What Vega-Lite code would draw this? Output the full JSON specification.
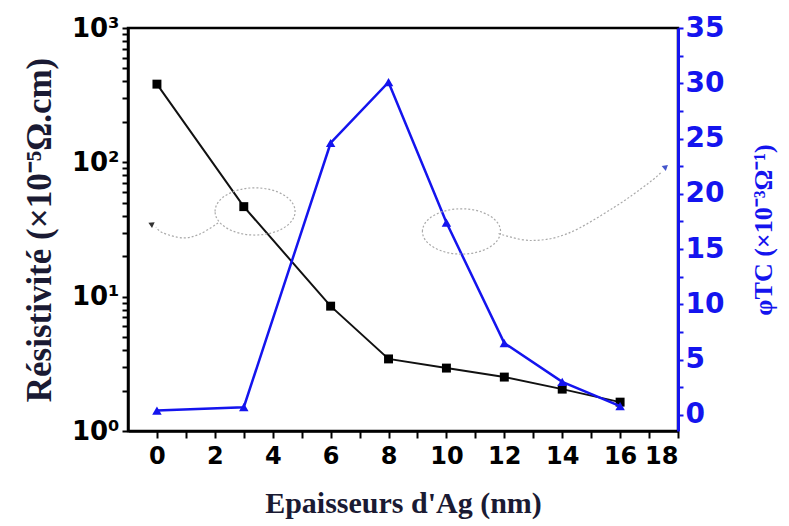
{
  "$schema": "https://vega.github.io/schema/vega-lite/v6.json",
  "width": 550,
  "height": 403,
  "autosize": {"type": "none"},
  "padding": {"left": 128, "top": 28, "right": 111, "bottom": 95},
  "background": "white",
  "config": {
    "view": {"stroke": "black", "strokeWidth": 2.5},
    "axis": {"grid": false},
    "axisX": {"titleFont": "Liberation Serif", "titleFontWeight": "bold", "titleFontSize": 30, "titleColor": "#1a1a33", "titlePadding": 20},
    "axisLeft": {"titleFont": "Liberation Serif", "titleFontWeight": "bold", "titleFontSize": 35, "titleColor": "#1a1a33", "titlePadding": 14},
    "axisRight": {"titleFont": "Liberation Serif", "titleFontWeight": "bold", "titleFontSize": 26, "titleColor": "#1414ee", "titleAngle": 270, "titleBaseline": "top", "titlePadding": 27}
  },
  "datasets": {
    "main": [
      {"x": 0, "rho": 382, "phi": 0.4},
      {"x": 3, "rho": 46.8, "phi": 0.7},
      {"x": 6, "rho": 8.5, "phi": 24.6},
      {"x": 8, "rho": 3.44, "phi": 30.1},
      {"x": 10, "rho": 2.94, "phi": 17.4},
      {"x": 12, "rho": 2.52, "phi": 6.5},
      {"x": 14, "rho": 2.05, "phi": 3.0},
      {"x": 16, "rho": 1.64, "phi": 0.8}
    ],
    "ell1": [{"x": 3.39, "rho": 43.1}],
    "curve1": [
      {"i": 0, "x": 2.11, "rho": 35.4},
      {"i": 1, "x": 1.49, "rho": 29.3},
      {"i": 2, "x": 0.9, "rho": 27.4},
      {"i": 3, "x": 0.21, "rho": 29.8},
      {"i": 4, "x": -0.03, "rho": 33.0}
    ],
    "arrow1": [{"x": -0.21, "rho": 34.8}],
    "ell2": [{"x": 10.52, "phi": 16.6}],
    "curve2": [
      {"i": 0, "x": 11.8, "phi": 16.41},
      {"i": 1, "x": 12.91, "phi": 15.78},
      {"i": 2, "x": 14.19, "phi": 16.41},
      {"i": 3, "x": 15.78, "phi": 18.76},
      {"i": 4, "x": 16.96, "phi": 20.92},
      {"i": 5, "x": 17.4, "phi": 21.9}
    ],
    "arrow2": [{"x": 17.58, "phi": 22.45}]
  },
  "layer": [
    {
      "data": {"name": "main"},
      "encoding": {
        "x": {
          "field": "x",
          "type": "quantitative",
          "scale": {"domain": [-1, 18], "nice": false, "zero": false},
          "axis": {
            "values": [0,1,2,3,4,5,6,7,8,9,10,11,12,13,14,15,16,17,18],
            "labelExpr": "datum.value % 2 === 0 ? datum.label : ''",
            "labelOverlap": false,
            "labelFont": "DejaVu Sans",
            "labelFontWeight": "bold",
            "labelFontSize": 24,
            "labelColor": "black",
            "labelPadding": 6,
            "tickSize": 7,
            "tickColor": "black",
            "tickWidth": 2,
            "domainColor": "black",
            "domainWidth": 2.5,
            "title": "Epaisseurs d'Ag (nm)"
          }
        },
        "y": {
          "field": "rho",
          "type": "quantitative",
          "scale": {"type": "log", "domain": [1, 1000], "nice": false},
          "axis": {
            "values": [1,2,3,4,5,6,7,8,9,10,20,30,40,50,60,70,80,90,100,200,300,400,500,600,700,800,900,1000],
            "labelExpr": "datum.value == 1 ? '10⁰' : datum.value == 10 ? '10¹' : datum.value == 100 ? '10²' : datum.value == 1000 ? '10³' : ''",
            "labelOverlap": false,
            "labelFont": "DejaVu Sans",
            "labelFontWeight": "bold",
            "labelFontSize": 26,
            "labelColor": "black",
            "labelPadding": 3,
            "tickSize": 6,
            "tickColor": "black",
            "tickWidth": 2,
            "domainColor": "black",
            "domainWidth": 2.5,
            "title": "Résistivité   (×10⁻⁵Ω.cm)"
          }
        }
      },
      "layer": [
        {"mark": {"type": "line", "color": "#111111", "strokeWidth": 2}},
        {"mark": {"type": "point", "shape": "square", "filled": true, "color": "#000000", "size": 80, "opacity": 1}}
      ]
    },
    {
      "data": {"name": "main"},
      "encoding": {
        "x": {"field": "x", "type": "quantitative", "scale": {"domain": [-1, 18], "nice": false, "zero": false}, "axis": null},
        "y": {
          "field": "phi",
          "type": "quantitative",
          "scale": {"domain": [-1.45, 35], "nice": false, "zero": false},
          "axis": {
            "orient": "right",
            "values": [0,2.5,5,7.5,10,12.5,15,17.5,20,22.5,25,27.5,30,32.5,35],
            "labelExpr": "datum.value % 5 === 0 ? datum.label : ''",
            "labelOverlap": false,
            "labelFont": "DejaVu Sans",
            "labelFontWeight": "bold",
            "labelFontSize": 28,
            "labelColor": "#1414ee",
            "labelPadding": 2,
            "tickSize": 5,
            "tickColor": "#1414ee",
            "tickWidth": 2,
            "domainColor": "#1414ee",
            "domainWidth": 3,
            "title": "φTC (×10⁻³Ω⁻¹)"
          }
        }
      },
      "layer": [
        {"mark": {"type": "line", "color": "#1414ee", "strokeWidth": 2.5}},
        {"mark": {"type": "point", "shape": "triangle-up", "filled": true, "color": "#1414ee", "size": 90, "opacity": 1}}
      ]
    },
    {
      "encoding": {
        "x": {"field": "x", "type": "quantitative", "scale": {"domain": [-1, 18], "nice": false, "zero": false}, "axis": null},
        "y": {"field": "rho", "type": "quantitative", "scale": {"type": "log", "domain": [1, 1000], "nice": false}, "axis": null}
      },
      "layer": [
        {
          "data": {"name": "ell1"},
          "mark": {"type": "point", "shape": "M-1,0A1,0.59,0,1,1,1,0A1,0.59,0,1,1,-1,0Z", "filled": false, "size": 6400, "color": "#aaaaaa", "strokeWidth": 1.2, "strokeDash": [2, 2], "opacity": 1}
        },
        {
          "data": {"name": "curve1"},
          "mark": {"type": "line", "interpolate": "cardinal", "color": "#aaaaaa", "strokeWidth": 1.2, "strokeDash": [2, 2]},
          "encoding": {"order": {"field": "i", "type": "quantitative"}}
        },
        {
          "data": {"name": "arrow1"},
          "mark": {"type": "point", "shape": "triangle-left", "angle": 25, "filled": true, "size": 40, "color": "#333333", "opacity": 1}
        }
      ]
    },
    {
      "encoding": {
        "x": {"field": "x", "type": "quantitative", "scale": {"domain": [-1, 18], "nice": false, "zero": false}, "axis": null},
        "y": {"field": "phi", "type": "quantitative", "scale": {"domain": [-1.45, 35], "nice": false, "zero": false}, "axis": null}
      },
      "layer": [
        {
          "data": {"name": "ell2"},
          "mark": {"type": "point", "shape": "M-1,0A1,0.58,0,1,1,1,0A1,0.58,0,1,1,-1,0Z", "filled": false, "size": 6100, "color": "#aaaaaa", "strokeWidth": 1.2, "strokeDash": [2, 2], "opacity": 1}
        },
        {
          "data": {"name": "curve2"},
          "mark": {"type": "line", "interpolate": "cardinal", "color": "#aaaaaa", "strokeWidth": 1.2, "strokeDash": [2, 2]},
          "encoding": {"order": {"field": "i", "type": "quantitative"}}
        },
        {
          "data": {"name": "arrow2"},
          "mark": {"type": "point", "shape": "triangle-right", "angle": -40, "filled": true, "size": 40, "color": "#4455cc", "opacity": 1}
        }
      ]
    }
  ],
  "resolve": {"scale": {"x": "independent", "y": "independent"}}
}
